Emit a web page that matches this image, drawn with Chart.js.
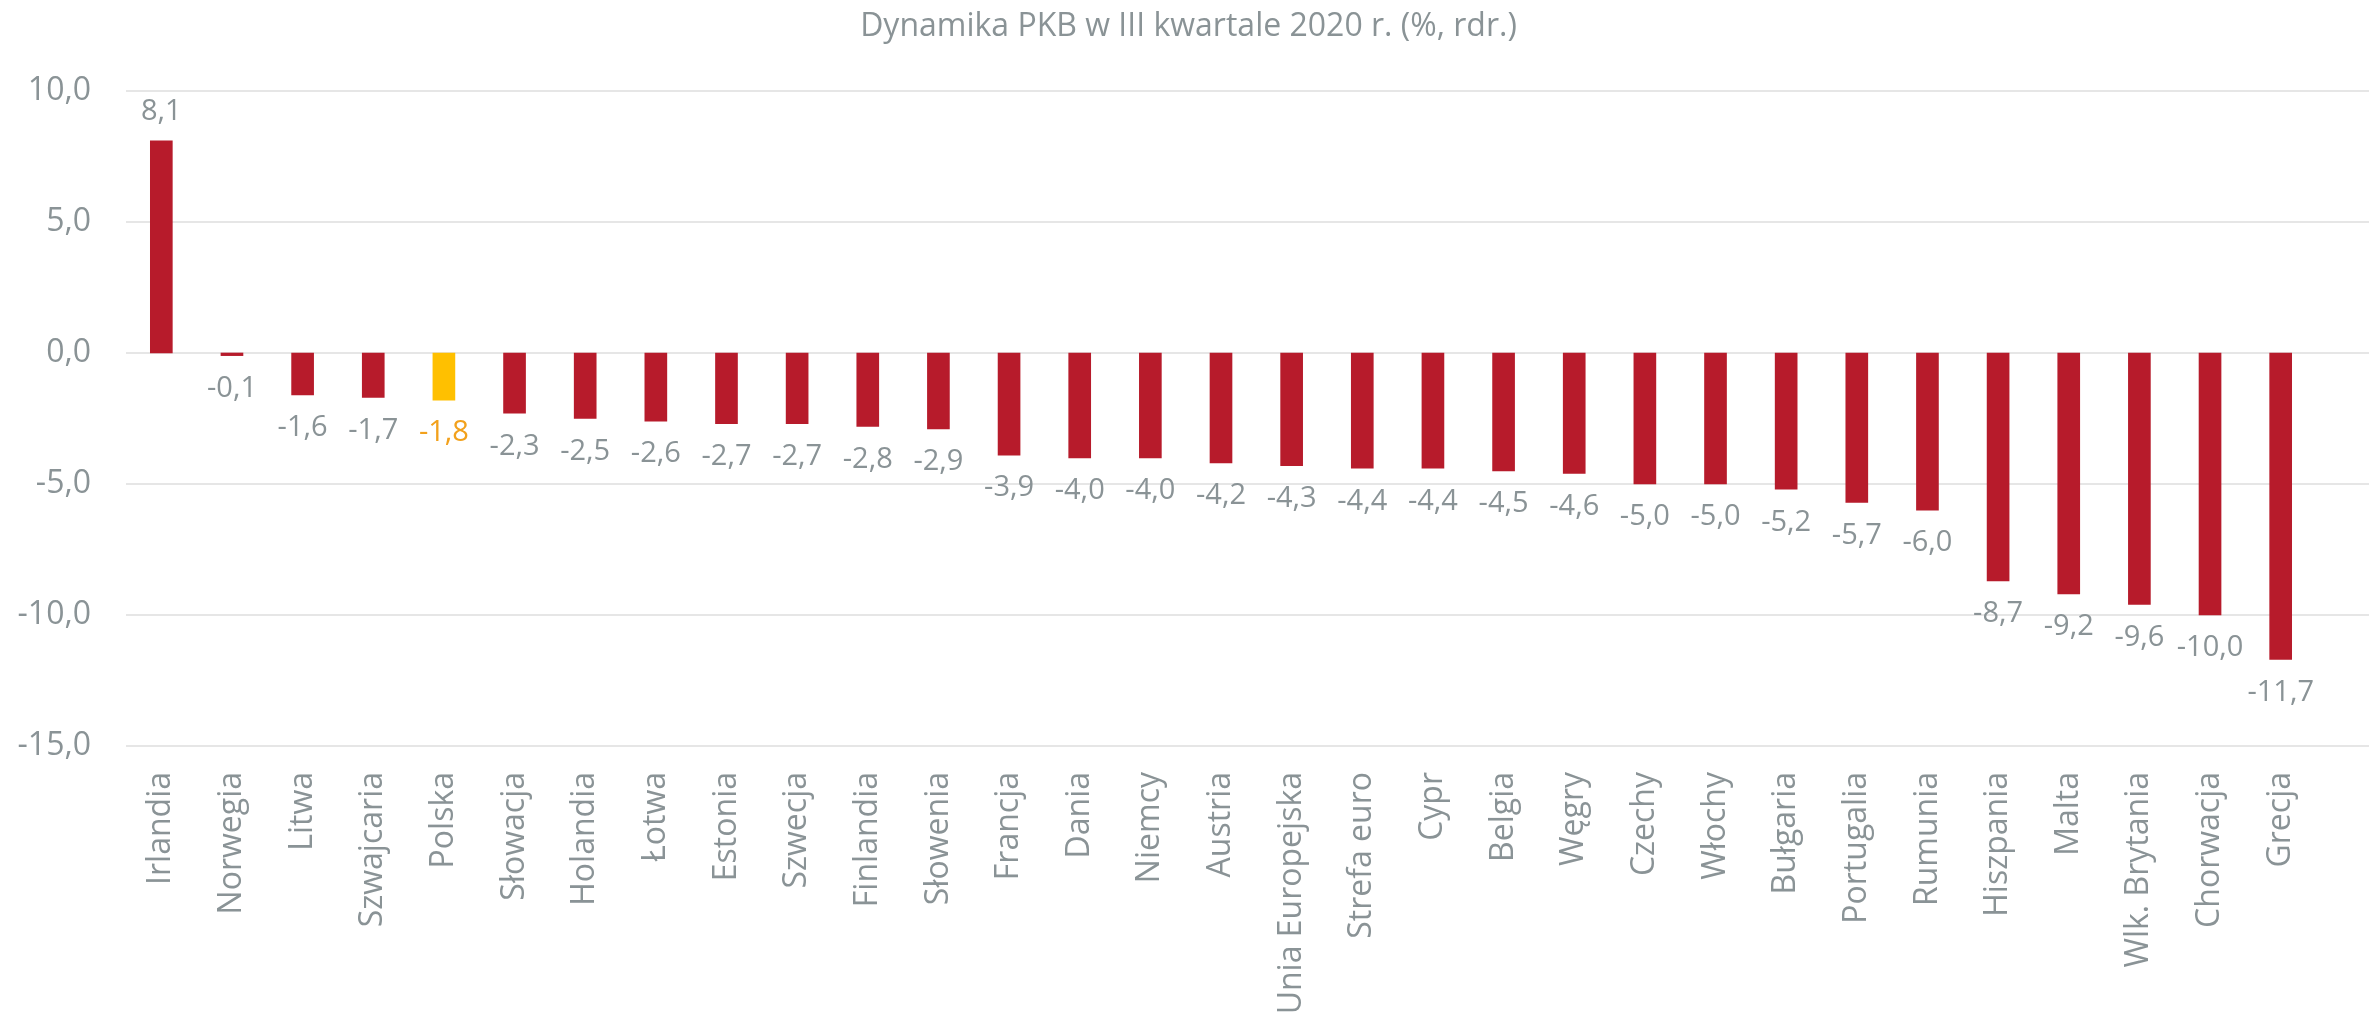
<!DOCTYPE html>
<html lang="pl">
<head>
<meta charset="utf-8">
<title>Dynamika PKB w III kwartale 2020 r.</title>
<script src="https://cdn.jsdelivr.net/npm/chart.js@4.4.1/dist/chart.umd.min.js"></script>
<style>
    html, body { margin: 0; padding: 0; background: #fff; overflow: hidden; }
    canvas { display: block; }
</style>
</head>
<body>
<canvas id="gdpChart" width="2369" height="1015"></canvas>
<script>
// Data
const countries = ['Irlandia', 'Norwegia', 'Litwa', 'Szwajcaria', 'Polska', 'Słowacja', 'Holandia',
    'Łotwa', 'Estonia', 'Szwecja', 'Finlandia', 'Słowenia', 'Francja', 'Dania', 'Niemcy', 'Austria',
    'Unia Europejska', 'Strefa euro', 'Cypr', 'Belgia', 'Węgry', 'Czechy', 'Włochy', 'Bułgaria',
    'Portugalia', 'Rumunia', 'Hiszpania', 'Malta', 'Wlk. Brytania', 'Chorwacja', 'Grecja'];
const gdpGrowth = [8.1, -0.1, -1.6, -1.7, -1.8, -2.3, -2.5, -2.6, -2.7, -2.7, -2.8, -2.9, -3.9, -4.0,
    -4.0, -4.2, -4.3, -4.4, -4.4, -4.5, -4.6, -5.0, -5.0, -5.2, -5.7, -6.0, -8.7, -9.2, -9.6, -10.0, -11.7];
const yTicks = [10, 5, 0, -5, -10, -15];
const highlight = 'Polska';
const chartTitle = 'Dynamika PKB w III kwartale 2020 r. (%, rdr.)';

const grey = '#8a9396';
const red = '#b71b2b';
const yellow = '#ffc000';
const orange = '#f2a11c';
const gridColor = '#e6e6e6';

const fmt = v => v.toFixed(1).replace('.', ',');

// gridlines run to the right edge, like in the original
const gridPlugin = {
    id: 'wideGrid',
    beforeDatasetsDraw(chart) {
        const { ctx, chartArea, scales: { y } } = chart;
        ctx.save();
        ctx.strokeStyle = gridColor;
        ctx.lineWidth = 2;
        yTicks.forEach(t => {
            const py = Math.round(y.getPixelForValue(t));
            ctx.beginPath();
            ctx.moveTo(chartArea.left, py);
            ctx.lineTo(chart.width, py);
            ctx.stroke();
        });
        ctx.restore();
    }
};

// title centred on the whole canvas (the plot area is shifted left)
const titlePlugin = {
    id: 'canvasTitle',
    afterDraw(chart) {
        const { ctx } = chart;
        ctx.save();
        ctx.font = '32px "Open Sans"';
        ctx.fillStyle = grey;
        ctx.textAlign = 'center';
        ctx.textBaseline = 'middle';
        ctx.fillText(chartTitle, chart.width / 2 + 4, 27);
        ctx.restore();
    }
};

// value labels at the bar ends
const labelPlugin = {
    id: 'valueLabels',
    afterDatasetsDraw(chart) {
        const { ctx } = chart;
        const meta = chart.getDatasetMeta(0);
        ctx.save();
        ctx.font = '29px "Open Sans"';
        ctx.textAlign = 'center';
        ctx.textBaseline = 'middle';
        meta.data.forEach((bar, i) => {
            const v = gdpGrowth[i];
            ctx.fillStyle = countries[i] === highlight ? orange : grey;
            const y = v >= 0 ? bar.y - 29 : bar.y + 33;
            ctx.fillText(fmt(v), bar.x, y);
        });
        ctx.restore();
    }
};

new Chart(document.getElementById('gdpChart'), {
    type: 'bar',
    data: {
        labels: countries,
        datasets: [{
            data: gdpGrowth,
            backgroundColor: countries.map(c => c === highlight ? yellow : red),
            borderWidth: 0,
            barThickness: 22,
            categoryPercentage: 1
        }]
    },
    options: {
        responsive: false,
        animation: false,
        layout: { padding: { left: 0, right: 53, top: 91, bottom: 0 } },
        plugins: {
            legend: { display: false },
            tooltip: { enabled: false },
            title: { display: false }
        },
        scales: {
            x: {
                grid: { display: false, drawTicks: false },
                border: { display: false },
                ticks: {
                    color: grey,
                    font: { family: 'Open Sans', size: 32 },
                    minRotation: 90,
                    maxRotation: 90,
                    autoSkip: false,
                    padding: 26
                },
                afterFit(scale) { scale.height = 269; }
            },
            y: {
                min: -15,
                max: 10,
                grid: { display: false, drawTicks: false },
                border: { display: false },
                ticks: {
                    stepSize: 5,
                    color: grey,
                    font: { family: 'Open Sans', size: 32 },
                    padding: 35,
                    callback: v => fmt(v)
                },
                afterFit(scale) { scale.width = 126; }
            }
        }
    },
    plugins: [gridPlugin, labelPlugin, titlePlugin]
});
</script>
</body>
</html>
